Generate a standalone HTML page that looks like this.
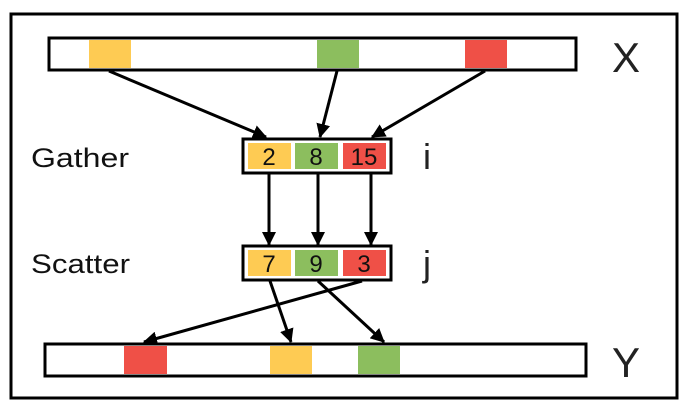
<!DOCTYPE html>
<html><head><style>
body{margin:0;background:#fff;}
svg text{font-family:"Liberation Sans",sans-serif;}
</style></head><body>
<svg width="688" height="411" viewBox="0 0 688 411" xmlns="http://www.w3.org/2000/svg">
<defs>
<marker id="b" markerWidth="14" markerHeight="14" refX="13" refY="7" orient="auto" markerUnits="userSpaceOnUse" viewBox="0 0 14 14">
<path d="M0,0 L14,7 L0,14 z" fill="#000"/></marker>
</defs>
<rect x="11" y="14" width="666" height="384" fill="#fff" stroke="#000" stroke-width="3"/>
<rect x="49" y="38" width="527" height="32" fill="#fff" stroke="#000" stroke-width="3"/>
<rect x="89" y="40" width="42" height="28" fill="#fecb53"/>
<rect x="317" y="40" width="42" height="28" fill="#8cbe5e"/>
<rect x="465" y="40" width="42" height="28" fill="#ef5047"/>
<text x="612" y="72" font-size="42" fill="#222">X</text>
<g stroke="#000" stroke-width="3" fill="none">
<line x1="109" y1="71" x2="266" y2="137" marker-end="url(#b)"/>
<line x1="337" y1="71" x2="320" y2="137" marker-end="url(#b)"/>
<line x1="485" y1="71" x2="372" y2="137" marker-end="url(#b)"/>
<line x1="269" y1="174" x2="269" y2="245" marker-end="url(#b)"/>
<line x1="318" y1="174" x2="318" y2="245" marker-end="url(#b)"/>
<line x1="371" y1="174" x2="371" y2="245" marker-end="url(#b)"/>
<line x1="270" y1="281" x2="291" y2="342" marker-end="url(#b)"/>
<line x1="318" y1="281" x2="384" y2="342" marker-end="url(#b)"/>
<line x1="362" y1="281" x2="144" y2="342" marker-end="url(#b)"/>
</g>
<rect x="243" y="139" width="148" height="34" fill="#fff" stroke="#000" stroke-width="3"/>
<rect x="248" y="143" width="43" height="26" fill="#fecb53"/>
<rect x="295" y="143" width="43" height="26" fill="#8cbe5e"/>
<rect x="343" y="143" width="43" height="26" fill="#ef5047"/>
<g font-size="24" text-anchor="middle" fill="#111">
<text x="269" y="165">2</text><text x="316" y="165">8</text><text x="364" y="165">15</text>
</g>
<text x="31" y="167" font-size="27" fill="#111" textLength="98" lengthAdjust="spacingAndGlyphs">Gather</text>
<text x="423" y="169" font-size="36" fill="#222">i</text>
<rect x="243" y="246" width="148" height="34" fill="#fff" stroke="#000" stroke-width="3"/>
<rect x="248" y="250" width="43" height="26" fill="#fecb53"/>
<rect x="295" y="250" width="43" height="26" fill="#8cbe5e"/>
<rect x="343" y="250" width="43" height="26" fill="#ef5047"/>
<g font-size="24" text-anchor="middle" fill="#111">
<text x="269" y="272">7</text><text x="316" y="272">9</text><text x="364" y="272">3</text>
</g>
<text x="31" y="273" font-size="27" fill="#111" textLength="99" lengthAdjust="spacingAndGlyphs">Scatter</text>
<text x="423" y="276" font-size="36" fill="#222">j</text>
<rect x="45" y="344" width="541" height="32" fill="#fff" stroke="#000" stroke-width="3"/>
<rect x="124" y="346" width="43" height="28" fill="#ef5047"/>
<rect x="270" y="346" width="42" height="28" fill="#fecb53"/>
<rect x="358" y="346" width="42" height="28" fill="#8cbe5e"/>
<text x="612" y="377" font-size="42" fill="#222">Y</text>
</svg>
</body></html>
